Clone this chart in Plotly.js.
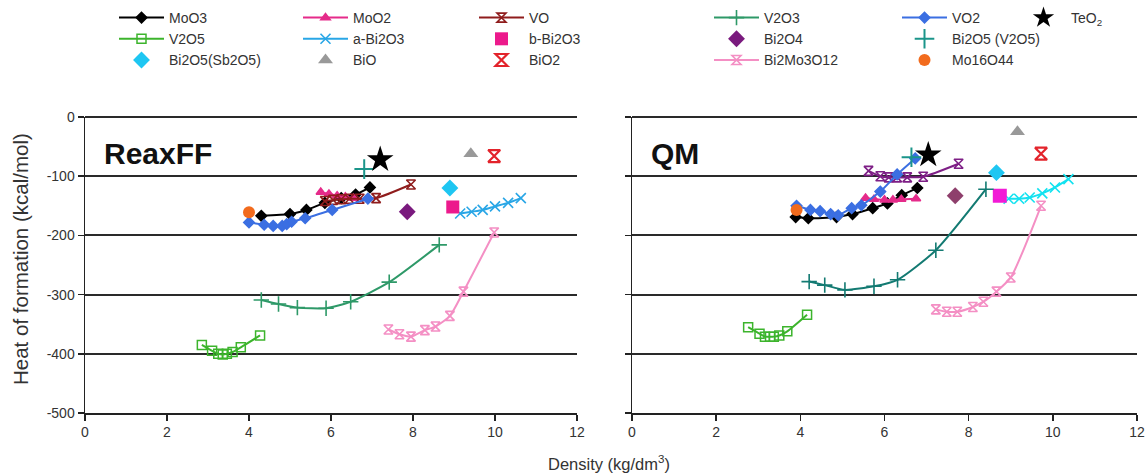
<!DOCTYPE html>
<html><head><meta charset="utf-8">
<script src="https://cdn.plot.ly/plotly-3.0.1.min.js"></script>
<style>html,body{margin:0;padding:0;background:#fff}#chart{width:1146px;height:474px}</style>
</head><body><div id="chart"></div>
<script>
// ---------- ReaxFF panel data (density kg/dm3, heat of formation kcal/mol) ----------
const reaxMoO3X = [4.3, 5.0, 5.4, 5.85, 6.25, 6.6, 6.95];
const reaxMoO3Y = [-167, -164, -157, -145, -137, -131, -119];
const reaxMoO2X = [5.75, 5.95, 6.15, 6.35, 6.55];
const reaxMoO2Y = [-127, -130, -133, -135, -137];
const reaxVOX = [5.85, 6.05, 6.25, 6.45, 6.7, 7.1, 7.95];
const reaxVOY = [-142, -140, -139, -138, -138, -137, -114];
const reaxV2O3X = [4.3, 4.72, 5.18, 5.88, 6.48, 7.42, 8.64];
const reaxV2O3Y = [-309, -316, -322, -323, -312, -279, -216];
const reaxVO2X = [4.0, 4.37, 4.59, 4.81, 4.92, 5.04, 5.37, 6.03, 6.9];
const reaxVO2Y = [-178, -182, -184, -184, -181, -177, -171, -157, -138];
const reaxTeO2X = [7.2];
const reaxTeO2Y = [-72];
const reaxV2O5X = [2.85, 3.1, 3.25, 3.36, 3.46, 3.6, 3.8, 4.27];
const reaxV2O5Y = [-385, -395, -400, -401, -400, -397, -389, -369];
const reaxABi2O3X = [9.15, 9.43, 9.7, 10.0, 10.32, 10.63];
const reaxABi2O3Y = [-163, -160, -157, -151, -145, -137];
const reaxBBi2O3X = [8.97];
const reaxBBi2O3Y = [-152];
const reaxBi2O4X = [7.86];
const reaxBi2O4Y = [-160];
const reaxBi2O5VX = [6.81];
const reaxBi2O5VY = [-88];
const reaxBi2O5SbX = [8.9];
const reaxBi2O5SbY = [-120];
const reaxBiOX = [9.41];
const reaxBiOY = [-62];
const reaxBiO2X = [9.98];
const reaxBiO2Y = [-66];
const reaxBi2Mo3O12X = [7.4, 7.67, 7.95, 8.29, 8.55, 8.9, 9.23, 9.98];
const reaxBi2Mo3O12Y = [-359, -367, -371, -360, -354, -336, -295, -195];
const reaxMo16O44X = [4.0];
const reaxMo16O44Y = [-161];

// ---------- QM panel data ----------
const qmMoO3X = [3.89, 4.19, 4.86, 5.24, 5.72, 6.07, 6.41, 6.78];
const qmMoO3Y = [-169, -171, -169, -164, -154, -146, -132, -120];
const qmMoO2X = [5.55, 5.75, 6.0, 6.2, 6.4, 6.75];
const qmMoO2Y = [-137, -139, -140, -140, -139, -138];
const qmVOX = [5.62, 5.9, 6.1, 6.3, 6.54, 6.92, 7.76];
const qmVOY = [-91, -100, -102, -102, -102, -101, -79];
const qmV2O3X = [4.21, 4.58, 5.06, 5.75, 6.31, 7.22, 8.41];
const qmV2O3Y = [-278, -284, -292, -286, -275, -225, -122];
const qmVO2X = [3.91, 4.24, 4.47, 4.72, 4.9, 5.22, 5.45, 5.9, 6.3, 6.73];
const qmVO2Y = [-150, -157, -159, -164, -166, -154, -149, -126, -97, -70];
const qmTeO2X = [7.04];
const qmTeO2Y = [-64];
const qmV2O5X = [2.76, 3.03, 3.16, 3.28, 3.37, 3.5, 3.69, 4.16];
const qmV2O5Y = [-355, -366, -371, -371, -371, -369, -362, -334];
const qmABi2O3X = [8.95, 9.2, 9.45, 9.75, 10.05, 10.37];
const qmABi2O3Y = [-138, -138, -136, -129, -119, -105];
const qmBBi2O3X = [8.74];
const qmBBi2O3Y = [-133];
const qmBi2O4X = [7.68];
const qmBi2O4Y = [-133];
const qmBi2O5VX = [6.64];
const qmBi2O5VY = [-68];
const qmBi2O5SbX = [8.66];
const qmBi2O5SbY = [-94];
const qmBiOX = [9.16];
const qmBiOY = [-25];
const qmBiO2X = [9.72];
const qmBiO2Y = [-62];
const qmBi2Mo3O12X = [7.22, 7.48, 7.73, 8.1, 8.35, 8.66, 9.0, 9.72];
const qmBi2Mo3O12Y = [-325, -329, -329, -321, -312, -295, -271, -150];
const qmMo16O44X = [3.91];
const qmMo16O44Y = [-157];

// ---------- tick labels ----------
const xTickVals = [0, 2, 4, 6, 8, 10, 12];
const yTickVals = [0, -100, -200, -300, -400, -500];

// ---------- series styling ----------
function lm(color, symbol, size, opts) {
  return Object.assign({mode: 'lines+markers', line: {color: color, width: 2, shape: 'spline', smoothing: 0.6},
    marker: {color: color, symbol: symbol, size: size, line: {color: color, width: 1.6}}}, opts || {});
}
function mk(color, symbol, size, lw) {
  return {mode: 'markers', marker: {color: color, symbol: symbol, size: size, line: {color: color, width: lw || 0}}};
}
const sq = {marker: {color: '#3cb42c', symbol: 'square-open', size: 9, line: {color: '#3cb42c', width: 1.5}}};

const series = [
  // name, legend column, reax x, reax y, qm x, qm y, reax style, qm style
  ['MoO3', 'legend', reaxMoO3X, reaxMoO3Y, qmMoO3X, qmMoO3Y, lm('#000000', 'diamond', 8), lm('#000000', 'diamond', 8)],
  ['V2O5', 'legend', reaxV2O5X, reaxV2O5Y, qmV2O5X, qmV2O5Y, lm('#3cb42c', 'square-open', 9, sq), lm('#3cb42c', 'square-open', 9, sq)],
  ['Bi2O5(Sb2O5)', 'legend', reaxBi2O5SbX, reaxBi2O5SbY, qmBi2O5SbX, qmBi2O5SbY, mk('#1ec6f2', 'diamond', 13), mk('#1ec6f2', 'diamond', 13)],
  ['MoO2', 'legend2', reaxMoO2X, reaxMoO2Y, qmMoO2X, qmMoO2Y, lm('#e52b8a', 'triangle-up', 8), lm('#e52b8a', 'triangle-up', 8)],
  ['a-Bi2O3', 'legend2', reaxABi2O3X, reaxABi2O3Y, qmABi2O3X, qmABi2O3Y, lm('#29a6e6', 'x-thin-open', 10), lm('#12e2f0', 'x-thin-open', 10)],
  ['BiO', 'legend2', reaxBiOX, reaxBiOY, qmBiOX, qmBiOY, mk('#999999', 'triangle-up', 13), mk('#999999', 'triangle-up', 13)],
  ['VO', 'legend3', reaxVOX, reaxVOY, qmVOX, qmVOY, lm('#8f1c1c', 'hourglass-open', 9), lm('#7e1f86', 'hourglass-open', 9)],
  ['b-Bi2O3', 'legend3', reaxBBi2O3X, reaxBBi2O3Y, qmBBi2O3X, qmBBi2O3Y, mk('#ec1a8c', 'square', 13), mk('#f21ad6', 'square', 14)],
  ['BiO2', 'legend3', reaxBiO2X, reaxBiO2Y, qmBiO2X, qmBiO2Y, mk('#e3232b', 'hourglass-open', 12, 2.2), mk('#e3232b', 'hourglass-open', 12, 2.2)],
  ['V2O3', 'legend4', reaxV2O3X, reaxV2O3Y, qmV2O3X, qmV2O3Y, lm('#2e9968', 'cross-thin-open', 11), lm('#137a72', 'cross-thin-open', 11)],
  ['Bi2O4', 'legend4', reaxBi2O4X, reaxBi2O4Y, qmBi2O4X, qmBi2O4Y, mk('#7a1a7e', 'diamond', 13), mk('#8e3f6c', 'diamond', 13)],
  ['Bi2Mo3O12', 'legend4', reaxBi2Mo3O12X, reaxBi2Mo3O12Y, qmBi2Mo3O12X, qmBi2Mo3O12Y, lm('#f48fc4', 'hourglass-open', 9), lm('#f48fc4', 'hourglass-open', 9)],
  ['VO2', 'legend5', reaxVO2X, reaxVO2Y, qmVO2X, qmVO2Y, lm('#3b6fe2', 'diamond', 8), lm('#3b6fe2', 'diamond', 8)],
  ['Bi2O5 (V2O5)', 'legend5', reaxBi2O5VX, reaxBi2O5VY, qmBi2O5VX, qmBi2O5VY, mk('#1b958a', 'cross-thin-open', 14, 2), mk('#1b958a', 'cross-thin-open', 14, 2)],
  ['Mo16O44', 'legend5', reaxMo16O44X, reaxMo16O44Y, qmMo16O44X, qmMo16O44Y, mk('#f26b1d', 'circle', 12), mk('#f26b1d', 'circle', 12)],
  ['TeO<sub>2</sub>', 'legend6', reaxTeO2X, reaxTeO2Y, qmTeO2X, qmTeO2Y, mk('#000000', 'star', 20), mk('#000000', 'star', 20)]
];

const traces = [];
series.forEach(function (s) {
  traces.push(Object.assign({type: 'scatter', name: s[0], x: s[2], y: s[3], xaxis: 'x', yaxis: 'y',
    legend: s[1], legendgroup: s[0], showlegend: true, hoverinfo: 'x+y+name'}, s[6]));
});
series.forEach(function (s) {
  traces.push(Object.assign({type: 'scatter', name: s[0], x: s[4], y: s[5], xaxis: 'x2', yaxis: 'y2',
    legend: s[1], legendgroup: s[0], showlegend: false, hoverinfo: 'x+y+name'}, s[7]));
});

const W = 1146, H = 474;
const FONT = 'Liberation Sans, Arial, sans-serif';
function legendAt(px, py, iw) {
  return {x: px / W, y: 1 - py / H, xanchor: 'left', yanchor: 'top', bgcolor: 'rgba(0,0,0,0)', borderwidth: 0,
    font: {family: FONT, size: 14, color: '#333'}, tracegroupgap: 0, itemwidth: iw || 45, orientation: 'v', traceorder: 'normal'};
}

function xax(domain, anchor) {
  return {domain: domain, anchor: anchor, range: [0, 12], tickvals: xTickVals, ticktext: xTickVals.map(String),
    ticks: 'outside', ticklen: 6, tickwidth: 1.5, tickcolor: '#222', showline: true, linecolor: '#222', linewidth: 1.5,
    showgrid: false, zeroline: false, tickfont: {family: FONT, size: 14, color: '#333'}, fixedrange: true};
}
function yax(domain, anchor, labels) {
  return {domain: domain, anchor: anchor, range: [-500, 0], tickvals: yTickVals, ticktext: yTickVals.map(String),
    showticklabels: labels, ticks: 'outside', ticklen: 6, tickwidth: 1.5, tickcolor: '#222',
    showline: true, linecolor: '#222', linewidth: 1.5, showgrid: true, gridcolor: '#2a2a2a', gridwidth: 2,
    zeroline: true, zerolinecolor: '#2a2a2a', zerolinewidth: 2,
    tickfont: {family: FONT, size: 14, color: '#333'}, fixedrange: true};
}

const yDom = [(H - 413) / H, (H - 117) / H];
const layout = {
  width: W, height: H, margin: {l: 0, r: 0, t: 0, b: 0}, paper_bgcolor: '#fff', plot_bgcolor: '#fff',
  font: {family: FONT, color: '#333'},
  xaxis: xax([85 / W, 577 / W], 'y'),
  yaxis: yax(yDom, 'x', true),
  xaxis2: xax([632 / W, 1137 / W], 'y2'),
  yaxis2: yax(yDom, 'x2', false),
  legend: legendAt(114, 2),
  legend2: legendAt(298, 2),
  legend3: legendAt(474, 2),
  legend4: legendAt(709, 2),
  legend5: legendAt(897, 2),
  legend6: legendAt(1016, 2, 45),
  annotations: [
    {xref: 'x', yref: 'y', x: 0.42, y: -62, xanchor: 'left', yanchor: 'middle', showarrow: false,
      text: '<b>ReaxFF</b>', font: {family: FONT, size: 30, color: '#111'}},
    {xref: 'x2', yref: 'y2', x: 0.40, y: -62, xanchor: 'left', yanchor: 'middle', showarrow: false,
      text: '<b>QM</b>', font: {family: FONT, size: 30, color: '#111'}},
    {xref: 'paper', yref: 'paper', x: 20 / W, y: 1 - 259 / H, xanchor: 'center', yanchor: 'middle', textangle: -90, showarrow: false,
      text: 'Heat of formation (kcal/mol)', font: {family: FONT, size: 20.5, color: '#333'}},
    {xref: 'paper', yref: 'paper', x: 609 / W, y: 1 - 463 / H, xanchor: 'center', yanchor: 'middle', showarrow: false,
      text: 'Density (kg/dm<sup>3</sup>)', font: {family: FONT, size: 16.5, color: '#333'}}
  ]
};

Plotly.newPlot('chart', traces, layout, {displayModeBar: false, staticPlot: true});
</script>
</body></html>
